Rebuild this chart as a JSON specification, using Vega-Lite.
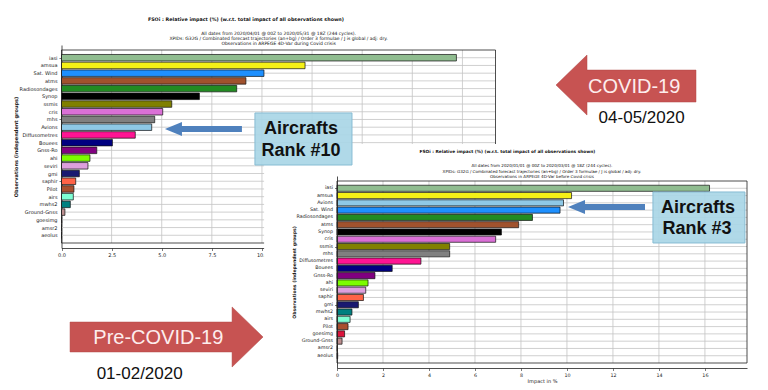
{
  "$schema": "https://vega.github.io/schema/vega-lite/v6.json",
  "width": 410,
  "height": 192,
  "padding": {"left": 337, "top": 176, "right": 21, "bottom": 22},
  "autosize": {"type": "none"},
  "background": "white",
  "config": {"view": {"stroke": null}, "font": "DejaVu Sans"},
  "datasets": {
    "c1": [
      {"obs": "iasi", "impact": 19.7, "rank": 1},
      {"obs": "amsua", "impact": 12.15, "rank": 2},
      {"obs": "Sat. Wind", "impact": 10.1, "rank": 3},
      {"obs": "atms", "impact": 9.2, "rank": 4},
      {"obs": "Radiosondages", "impact": 8.74, "rank": 5},
      {"obs": "Synop", "impact": 6.88, "rank": 6},
      {"obs": "ssmis", "impact": 5.5, "rank": 7},
      {"obs": "cris", "impact": 5.05, "rank": 8},
      {"obs": "mhs", "impact": 4.65, "rank": 9},
      {"obs": "Avions", "impact": 4.5, "rank": 10},
      {"obs": "Diffusometres", "impact": 3.68, "rank": 11},
      {"obs": "Bouees", "impact": 2.54, "rank": 12},
      {"obs": "Gnss-Ro", "impact": 1.76, "rank": 13},
      {"obs": "ahi", "impact": 1.42, "rank": 14},
      {"obs": "seviri", "impact": 1.32, "rank": 15},
      {"obs": "gmi", "impact": 0.89, "rank": 16},
      {"obs": "saphir", "impact": 0.71, "rank": 17},
      {"obs": "Pilot", "impact": 0.62, "rank": 18},
      {"obs": "airs", "impact": 0.59, "rank": 19},
      {"obs": "mwhs2", "impact": 0.44, "rank": 20},
      {"obs": "Ground-Gnss", "impact": 0.17, "rank": 21},
      {"obs": "goesimg", "impact": 0.01, "rank": 22},
      {"obs": "amsr2", "impact": 0.0, "rank": 23},
      {"obs": "aeolus", "impact": 0.0, "rank": 24}
    ],
    "c2": [
      {"obs": "iasi", "impact": 16.2, "rank": 1},
      {"obs": "amsua", "impact": 10.2, "rank": 2},
      {"obs": "Avions", "impact": 9.85, "rank": 3},
      {"obs": "Sat. Wind", "impact": 9.7, "rank": 4},
      {"obs": "Radiosondages", "impact": 8.5, "rank": 5},
      {"obs": "atms", "impact": 7.9, "rank": 6},
      {"obs": "Synop", "impact": 7.15, "rank": 7},
      {"obs": "cris", "impact": 6.9, "rank": 8},
      {"obs": "ssmis", "impact": 4.9, "rank": 9},
      {"obs": "mhs", "impact": 4.9, "rank": 10},
      {"obs": "Diffusometres", "impact": 3.65, "rank": 11},
      {"obs": "Bouees", "impact": 2.4, "rank": 12},
      {"obs": "Gnss-Ro", "impact": 1.65, "rank": 13},
      {"obs": "ahi", "impact": 1.35, "rank": 14},
      {"obs": "seviri", "impact": 1.25, "rank": 15},
      {"obs": "saphir", "impact": 1.15, "rank": 16},
      {"obs": "gmi", "impact": 0.93, "rank": 17},
      {"obs": "mwhs2", "impact": 0.65, "rank": 18},
      {"obs": "airs", "impact": 0.57, "rank": 19},
      {"obs": "Pilot", "impact": 0.48, "rank": 20},
      {"obs": "goesimg", "impact": 0.33, "rank": 21},
      {"obs": "Ground-Gnss", "impact": 0.22, "rank": 22},
      {"obs": "amsr2", "impact": 0.02, "rank": 23},
      {"obs": "aeolus", "impact": 0.03, "rank": 24}
    ],
    "gx1": [{"t": 2.5}, {"t": 5}, {"t": 7.5}, {"t": 10}, {"t": 12.5}, {"t": 15}, {"t": 17.5}, {"t": 20}],
    "gx2": [{"t": 2}, {"t": 4}, {"t": 6}, {"t": 8}, {"t": 10}, {"t": 12}, {"t": 14}, {"t": 16}],
    "one": [{"k": 1}],
    "t1": [{"text": "FSOi : Relative impact (%) (w.r.t. total impact of all observations shown)", "u": 9.2, "r": -3.94}],
    "s1": [
      {"text": "All dates from 2020/04/01 @ 00Z to 2020/05/31 @ 18Z (244 cycles).", "u": 10.83, "r": -2.09},
      {"text": "XPIDs: G32G / Combinated forecast trajectories (an+bg) / Order 3  formulae / J is global / adj: dry.", "u": 10.83, "r": -1.42},
      {"text": "Observations in ARPEGE 4D-Var during Covid crisis", "u": 10.83, "r": -0.74}
    ],
    "t2": [{"text": "FSOi : Relative impact (%) (w.r.t. total impact of all observations shown)", "u": 7.41, "r": -4.04}],
    "s2": [
      {"text": "All dates from 2020/01/01 @ 00Z to 2020/03/01 @ 18Z (244 cycles).", "u": 8.91, "r": -2.08},
      {"text": "XPIDs: G32G / Combinated forecast trajectories (an+bg) / Order 3  formulae / J is global / adj: dry.", "u": 8.91, "r": -1.3},
      {"text": "Observations in ARPEGE 4D-Var before Covid crisis", "u": 8.91, "r": -0.52}
    ]
  },
  "resolve": {"scale": {"x": "independent", "y": "independent"}},
  "layer": [
    {
      "layer": [
        {
          "data": {"name": "gx1"},
          "mark": {"type": "rule", "color": "#c4c4c4", "strokeWidth": 0.8},
          "encoding": {
            "x": {"field": "t", "type": "quantitative", "scale": {"domain": [0, 21.65], "range": [-275.5, 158.5], "nice": false, "zero": false}},
            "y": {"datum": 0, "type": "quantitative", "scale": {"domain": [0, 25], "range": [-131, 72], "nice": false, "zero": false}},
            "y2": {"datum": 25}
          }
        },
        {
          "data": {"name": "c1"},
          "mark": {"type": "rule", "color": "#c4c4c4", "strokeWidth": 0.8},
          "encoding": {
            "y": {"field": "rank", "type": "quantitative", "scale": {"domain": [0, 25], "range": [-131, 72], "nice": false, "zero": false}},
            "x": {"datum": 0, "type": "quantitative", "scale": {"domain": [0, 21.65], "range": [-275.5, 158.5], "nice": false, "zero": false}},
            "x2": {"datum": 21.65}
          }
        },
        {
          "data": {"name": "c1"},
          "mark": {"type": "bar", "orient": "horizontal", "size": 6.5, "stroke": "#111", "strokeWidth": 0.7},
          "encoding": {
            "x": {"field": "impact", "type": "quantitative", "stack": null,
              "scale": {"domain": [0, 21.65], "range": [-275.5, 158.5], "nice": false, "zero": false},
              "axis": {"orient": "bottom", "offset": -120, "values": [0, 2.5, 5, 7.5, 10, 12.5, 15, 17.5, 20], "format": ".1f", "grid": false, "labelFlush": false, "labelOverlap": false, "domainColor": "#222", "domainWidth": 0.8, "tickColor": "#222", "tickSize": 2.5, "tickWidth": 0.6, "labelFontSize": 5, "labelColor": "#222", "labelPadding": 1.5, "labelFont": "DejaVu Sans", "title": null, "zindex": 0}},
            "y": {"field": "rank", "type": "quantitative",
              "scale": {"domain": [0, 25], "range": [-131, 72], "nice": false, "zero": false},
              "axis": {"orient": "left", "offset": 275.5, "values": [1,2,3,4,5,6,7,8,9,10,11,12,13,14,15,16,17,18,19,20,21,22,23,24], "labels": false, "grid": false, "domainColor": "#222", "domainWidth": 0.8, "tickColor": "#222", "tickSize": 2.5, "tickWidth": 0.6, "title": "Observations (independent groups)", "titleFont": "DejaVu Sans", "titleFontSize": 5, "titleFontWeight": "bold", "titleColor": "#222", "titlePadding": 40, "zindex": 0}},
            "color": {"field": "obs", "type": "nominal", "legend": null,
              "scale": {"domain": ["iasi","amsua","Sat. Wind","atms","Radiosondages","Synop","ssmis","cris","mhs","Avions","Diffusometres","Bouees","Gnss-Ro","ahi","seviri","gmi","saphir","Pilot","airs","mwhs2","Ground-Gnss","goesimg","amsr2","aeolus"],
                "range": ["#8fbc8f","#f5f016","#1e90ff","#a0522d","#228b22","#000000","#808000","#da70d6","#808080","#8ec8e6","#ff1493","#000080","#800080","#7cfc00","#dda0dd","#191970","#ff6347","#a9502f","#7fffd4","#008080","#bc8f8f","#dc143c","#ffa500","#4b0082"]}}
          }
        },
        {
          "data": {"name": "one"},
          "mark": {"type": "rect", "fillOpacity": 0, "stroke": "#222", "strokeWidth": 0.8},
          "encoding": {
            "x": {"datum": 0, "type": "quantitative", "scale": {"domain": [0, 21.65], "range": [-275.5, 158.5], "nice": false, "zero": false}},
            "x2": {"datum": 21.65},
            "y": {"datum": 0, "type": "quantitative", "scale": {"domain": [0, 25], "range": [-131, 72], "nice": false, "zero": false}},
            "y2": {"datum": 25}
          }
        },
        {
          "data": {"name": "c1"},
          "mark": {"type": "text", "align": "right", "baseline": "middle", "dx": -4, "fontSize": 5, "color": "#222"},
          "encoding": {
            "x": {"datum": 0, "type": "quantitative", "scale": {"domain": [0, 21.65], "range": [-275.5, 158.5], "nice": false, "zero": false}},
            "y": {"field": "rank", "type": "quantitative", "scale": {"domain": [0, 25], "range": [-131, 72], "nice": false, "zero": false}},
            "text": {"field": "obs"}
          }
        },
        {
          "data": {"name": "t1"},
          "mark": {"type": "text", "align": "center", "baseline": "middle", "fontSize": 4.8, "fontWeight": "bold", "color": "#111"},
          "encoding": {
            "x": {"field": "u", "type": "quantitative", "scale": {"domain": [0, 21.65], "range": [-275.5, 158.5], "nice": false, "zero": false}},
            "y": {"field": "r", "type": "quantitative", "scale": {"domain": [0, 25], "range": [-131, 72], "nice": false, "zero": false}},
            "text": {"field": "text"}
          }
        },
        {
          "data": {"name": "s1"},
          "mark": {"type": "text", "align": "center", "baseline": "middle", "fontSize": 4.5, "color": "#111"},
          "encoding": {
            "x": {"field": "u", "type": "quantitative", "scale": {"domain": [0, 21.65], "range": [-275.5, 158.5], "nice": false, "zero": false}},
            "y": {"field": "r", "type": "quantitative", "scale": {"domain": [0, 25], "range": [-131, 72], "nice": false, "zero": false}},
            "text": {"field": "text"}
          }
        }
      ]
    },
    {
      "layer": [
        {
          "data": {"name": "one"},
          "mark": {"type": "rect", "color": "white", "strokeWidth": 0},
          "encoding": {
            "x": {"datum": -3.17, "type": "quantitative", "scale": {"domain": [0, 17.83], "range": [0, 410], "nice": false, "zero": false}},
            "x2": {"datum": 19.5},
            "y": {"datum": -5.08, "type": "quantitative", "scale": {"domain": [0, 25], "range": [0, 192], "nice": false, "zero": false}},
            "y2": {"datum": 29}
          }
        },
        {
          "data": {"name": "gx2"},
          "mark": {"type": "rule", "color": "#c4c4c4", "strokeWidth": 0.8},
          "encoding": {
            "x": {"field": "t", "type": "quantitative", "scale": {"domain": [0, 17.83], "range": [0, 410], "nice": false, "zero": false}},
            "y": {"datum": 0, "type": "quantitative", "scale": {"domain": [0, 25], "range": [0, 192], "nice": false, "zero": false}},
            "y2": {"datum": 25}
          }
        },
        {
          "data": {"name": "c2"},
          "mark": {"type": "rule", "color": "#c4c4c4", "strokeWidth": 0.8},
          "encoding": {
            "y": {"field": "rank", "type": "quantitative", "scale": {"domain": [0, 25], "range": [0, 192], "nice": false, "zero": false}},
            "x": {"datum": 0, "type": "quantitative", "scale": {"domain": [0, 17.83], "range": [0, 410], "nice": false, "zero": false}},
            "x2": {"datum": 17.83}
          }
        },
        {
          "data": {"name": "c2"},
          "mark": {"type": "bar", "orient": "horizontal", "size": 6.1, "stroke": "#111", "strokeWidth": 0.7},
          "encoding": {
            "x": {"field": "impact", "type": "quantitative", "stack": null,
              "scale": {"domain": [0, 17.83], "range": [0, 410], "nice": false, "zero": false},
              "axis": {"orient": "bottom", "values": [0, 2, 4, 6, 8, 10, 12, 14, 16], "format": "d", "grid": false, "labelFlush": false, "labelOverlap": false, "domainColor": "#222", "domainWidth": 0.8, "tickColor": "#222", "tickSize": 2.5, "tickWidth": 0.6, "labelFontSize": 4.8, "labelColor": "#222", "labelPadding": 1.5, "labelFont": "DejaVu Sans", "title": "Impact in %", "titleFont": "DejaVu Sans", "titleFontSize": 5, "titleFontWeight": "normal", "titleColor": "#222", "titlePadding": 1.5, "zindex": 1}},
            "y": {"field": "rank", "type": "quantitative",
              "scale": {"domain": [0, 25], "range": [0, 192], "nice": false, "zero": false},
              "axis": {"orient": "left", "values": [1,2,3,4,5,6,7,8,9,10,11,12,13,14,15,16,17,18,19,20,21,22,23,24], "labels": false, "grid": false, "domainColor": "#222", "domainWidth": 0.8, "tickColor": "#222", "tickSize": 2.5, "tickWidth": 0.6, "title": "Observations (independent groups)", "titleFont": "DejaVu Sans", "titleFontSize": 4.6, "titleFontWeight": "bold", "titleColor": "#222", "titlePadding": 37.5, "zindex": 1}},
            "color": {"field": "obs", "type": "nominal", "legend": null,
              "scale": {"domain": ["iasi","amsua","Sat. Wind","atms","Radiosondages","Synop","ssmis","cris","mhs","Avions","Diffusometres","Bouees","Gnss-Ro","ahi","seviri","gmi","saphir","Pilot","airs","mwhs2","Ground-Gnss","goesimg","amsr2","aeolus"],
                "range": ["#8fbc8f","#f5f016","#1e90ff","#a0522d","#228b22","#000000","#808000","#da70d6","#808080","#8ec8e6","#ff1493","#000080","#800080","#7cfc00","#dda0dd","#191970","#ff6347","#a9502f","#7fffd4","#008080","#bc8f8f","#dc143c","#ffa500","#4b0082"]}}
          }
        },
        {
          "data": {"name": "one"},
          "mark": {"type": "rect", "fillOpacity": 0, "stroke": "#222", "strokeWidth": 0.8},
          "encoding": {
            "x": {"datum": 0, "type": "quantitative", "scale": {"domain": [0, 17.83], "range": [0, 410], "nice": false, "zero": false}},
            "x2": {"datum": 17.83},
            "y": {"datum": 0, "type": "quantitative", "scale": {"domain": [0, 25], "range": [0, 192], "nice": false, "zero": false}},
            "y2": {"datum": 25}
          }
        },
        {
          "data": {"name": "c2"},
          "mark": {"type": "text", "align": "right", "baseline": "middle", "dx": -4, "fontSize": 4.8, "color": "#222"},
          "encoding": {
            "x": {"datum": 0, "type": "quantitative", "scale": {"domain": [0, 17.83], "range": [0, 410], "nice": false, "zero": false}},
            "y": {"field": "rank", "type": "quantitative", "scale": {"domain": [0, 25], "range": [0, 192], "nice": false, "zero": false}},
            "text": {"field": "obs"}
          }
        },
        {
          "data": {"name": "t2"},
          "mark": {"type": "text", "align": "center", "baseline": "middle", "fontSize": 4.3, "fontWeight": "bold", "color": "#111"},
          "encoding": {
            "x": {"field": "u", "type": "quantitative", "scale": {"domain": [0, 17.83], "range": [0, 410], "nice": false, "zero": false}},
            "y": {"field": "r", "type": "quantitative", "scale": {"domain": [0, 25], "range": [0, 192], "nice": false, "zero": false}},
            "text": {"field": "text"}
          }
        },
        {
          "data": {"name": "s2"},
          "mark": {"type": "text", "align": "center", "baseline": "middle", "fontSize": 4.1, "color": "#111"},
          "encoding": {
            "x": {"field": "u", "type": "quantitative", "scale": {"domain": [0, 17.83], "range": [0, 410], "nice": false, "zero": false}},
            "y": {"field": "r", "type": "quantitative", "scale": {"domain": [0, 25], "range": [0, 192], "nice": false, "zero": false}},
            "text": {"field": "text"}
          }
        }
      ]
    },
    {
      "layer": [
        {
          "data": {"values": [{"label": "COVID-19", "u": 28.16, "r": 4.93}]},
          "mark": {"type": "point", "shape": "M-1,0L-0.557,-0.429L-0.557,-0.214L1,-0.214L1,0.243L-0.557,0.243L-0.557,0.429Z", "size": 19600, "filled": true, "fill": "#c75352", "stroke": "#b04846", "strokeWidth": 0.5, "opacity": 1},
          "encoding": {
            "x": {"field": "u", "type": "quantitative", "axis": null, "scale": {"domain": [0, 21.65], "range": [-275.5, 158.5], "nice": false, "zero": false}},
            "y": {"field": "r", "type": "quantitative", "axis": null, "scale": {"domain": [0, 25], "range": [-131, 72], "nice": false, "zero": false}}
          }
        },
        {
          "data": {"values": [{"label": "Pre-COVID-19", "u": 5.24, "r": 35.96}]},
          "mark": {"type": "point", "shape": "M1,0L0.679,-0.311L0.679,-0.155L-1,-0.155L-1,0.155L0.679,0.155L0.679,0.311Z", "size": 37249, "filled": true, "fill": "#c75352", "stroke": "#b04846", "strokeWidth": 0.5, "opacity": 1},
          "encoding": {
            "x": {"field": "u", "type": "quantitative", "axis": null, "scale": {"domain": [0, 21.65], "range": [-275.5, 158.5], "nice": false, "zero": false}},
            "y": {"field": "r", "type": "quantitative", "axis": null, "scale": {"domain": [0, 25], "range": [-131, 72], "nice": false, "zero": false}}
          }
        },
        {
          "data": {"values": [{"label": "Avions rank 10", "u": 7.08, "r": 10.34}]},
          "mark": {"type": "point", "shape": "M-1,0L-0.558,-0.182L-0.558,-0.078L1,-0.078L1,0.078L-0.558,0.078L-0.558,0.182Z", "size": 5929, "filled": true, "fill": "#4f81bd", "strokeWidth": 0, "opacity": 1},
          "encoding": {
            "x": {"field": "u", "type": "quantitative", "axis": null, "scale": {"domain": [0, 21.65], "range": [-275.5, 158.5], "nice": false, "zero": false}},
            "y": {"field": "r", "type": "quantitative", "axis": null, "scale": {"domain": [0, 25], "range": [-131, 72], "nice": false, "zero": false}}
          }
        },
        {
          "data": {"values": [{"u1": 9.65, "u2": 14.49, "r1": 8.37, "r2": 14.78}]},
          "mark": {"type": "rect", "fill": "#a9d6e6", "fillOpacity": 0.92, "stroke": "#86bcd3", "strokeWidth": 1},
          "encoding": {
            "x": {"field": "u1", "type": "quantitative", "axis": null, "scale": {"domain": [0, 21.65], "range": [-275.5, 158.5], "nice": false, "zero": false}},
            "x2": {"field": "u2"},
            "y": {"field": "r1", "type": "quantitative", "axis": null, "scale": {"domain": [0, 25], "range": [-131, 72], "nice": false, "zero": false}},
            "y2": {"field": "r2"}
          }
        },
        {
          "data": {"values": [{"text": "Aircrafts", "u": 11.95, "r": 10.34}, {"text": "Rank #10", "u": 11.95, "r": 13.05}]},
          "mark": {"type": "text", "align": "center", "baseline": "middle", "font": "Liberation Sans", "fontSize": 18, "fontWeight": "bold", "color": "#111"},
          "encoding": {
            "x": {"field": "u", "type": "quantitative", "axis": null, "scale": {"domain": [0, 21.65], "range": [-275.5, 158.5], "nice": false, "zero": false}},
            "y": {"field": "r", "type": "quantitative", "axis": null, "scale": {"domain": [0, 25], "range": [-131, 72], "nice": false, "zero": false}},
            "text": {"field": "text"}
          }
        },
        {
          "data": {"values": [{"text": "COVID-19", "u": 28.57, "r": 5.14}, {"text": "Pre-COVID-19", "u": 4.83, "r": 36.08}]},
          "mark": {"type": "text", "align": "center", "baseline": "middle", "font": "Liberation Sans", "fontSize": 20, "color": "#fdeded"},
          "encoding": {
            "x": {"field": "u", "type": "quantitative", "axis": null, "scale": {"domain": [0, 21.65], "range": [-275.5, 158.5], "nice": false, "zero": false}},
            "y": {"field": "r", "type": "quantitative", "axis": null, "scale": {"domain": [0, 25], "range": [-131, 72], "nice": false, "zero": false}},
            "text": {"field": "text"}
          }
        },
        {
          "data": {"values": [{"text": "04-05/2020", "u": 28.94, "r": 8.93}, {"text": "01-02/2020", "u": 3.9, "r": 40.48}]},
          "mark": {"type": "text", "align": "center", "baseline": "middle", "font": "Liberation Sans", "fontSize": 17, "color": "#111"},
          "encoding": {
            "x": {"field": "u", "type": "quantitative", "axis": null, "scale": {"domain": [0, 21.65], "range": [-275.5, 158.5], "nice": false, "zero": false}},
            "y": {"field": "r", "type": "quantitative", "axis": null, "scale": {"domain": [0, 25], "range": [-131, 72], "nice": false, "zero": false}},
            "text": {"field": "text"}
          }
        }
      ]
    },
    {
      "layer": [
        {
          "data": {"values": [{"label": "Avions rank 3", "u": 11.72, "r": 4.04}]},
          "mark": {"type": "point", "shape": "M-1,0L-0.558,-0.182L-0.558,-0.078L1,-0.078L1,0.078L-0.558,0.078L-0.558,0.182Z", "size": 5929, "filled": true, "fill": "#4f81bd", "strokeWidth": 0, "opacity": 1},
          "encoding": {
            "x": {"field": "u", "type": "quantitative", "axis": null, "scale": {"domain": [0, 17.83], "range": [0, 410], "nice": false, "zero": false}},
            "y": {"field": "r", "type": "quantitative", "axis": null, "scale": {"domain": [0, 25], "range": [0, 192], "nice": false, "zero": false}}
          }
        },
        {
          "data": {"values": [{"u1": 13.74, "u2": 17.74, "r1": 2.08, "r2": 8.72}]},
          "mark": {"type": "rect", "fill": "#a9d6e6", "fillOpacity": 0.92, "stroke": "#86bcd3", "strokeWidth": 1},
          "encoding": {
            "x": {"field": "u1", "type": "quantitative", "axis": null, "scale": {"domain": [0, 17.83], "range": [0, 410], "nice": false, "zero": false}},
            "x2": {"field": "u2"},
            "y": {"field": "r1", "type": "quantitative", "axis": null, "scale": {"domain": [0, 25], "range": [0, 192], "nice": false, "zero": false}},
            "y2": {"field": "r2"}
          }
        },
        {
          "data": {"values": [{"text": "Aircrafts", "u": 15.7, "r": 4.17}, {"text": "Rank #3", "u": 15.66, "r": 6.9}]},
          "mark": {"type": "text", "align": "center", "baseline": "middle", "font": "Liberation Sans", "fontSize": 18, "fontWeight": "bold", "color": "#111"},
          "encoding": {
            "x": {"field": "u", "type": "quantitative", "axis": null, "scale": {"domain": [0, 17.83], "range": [0, 410], "nice": false, "zero": false}},
            "y": {"field": "r", "type": "quantitative", "axis": null, "scale": {"domain": [0, 25], "range": [0, 192], "nice": false, "zero": false}},
            "text": {"field": "text"}
          }
        }
      ]
    }
  ]
}
